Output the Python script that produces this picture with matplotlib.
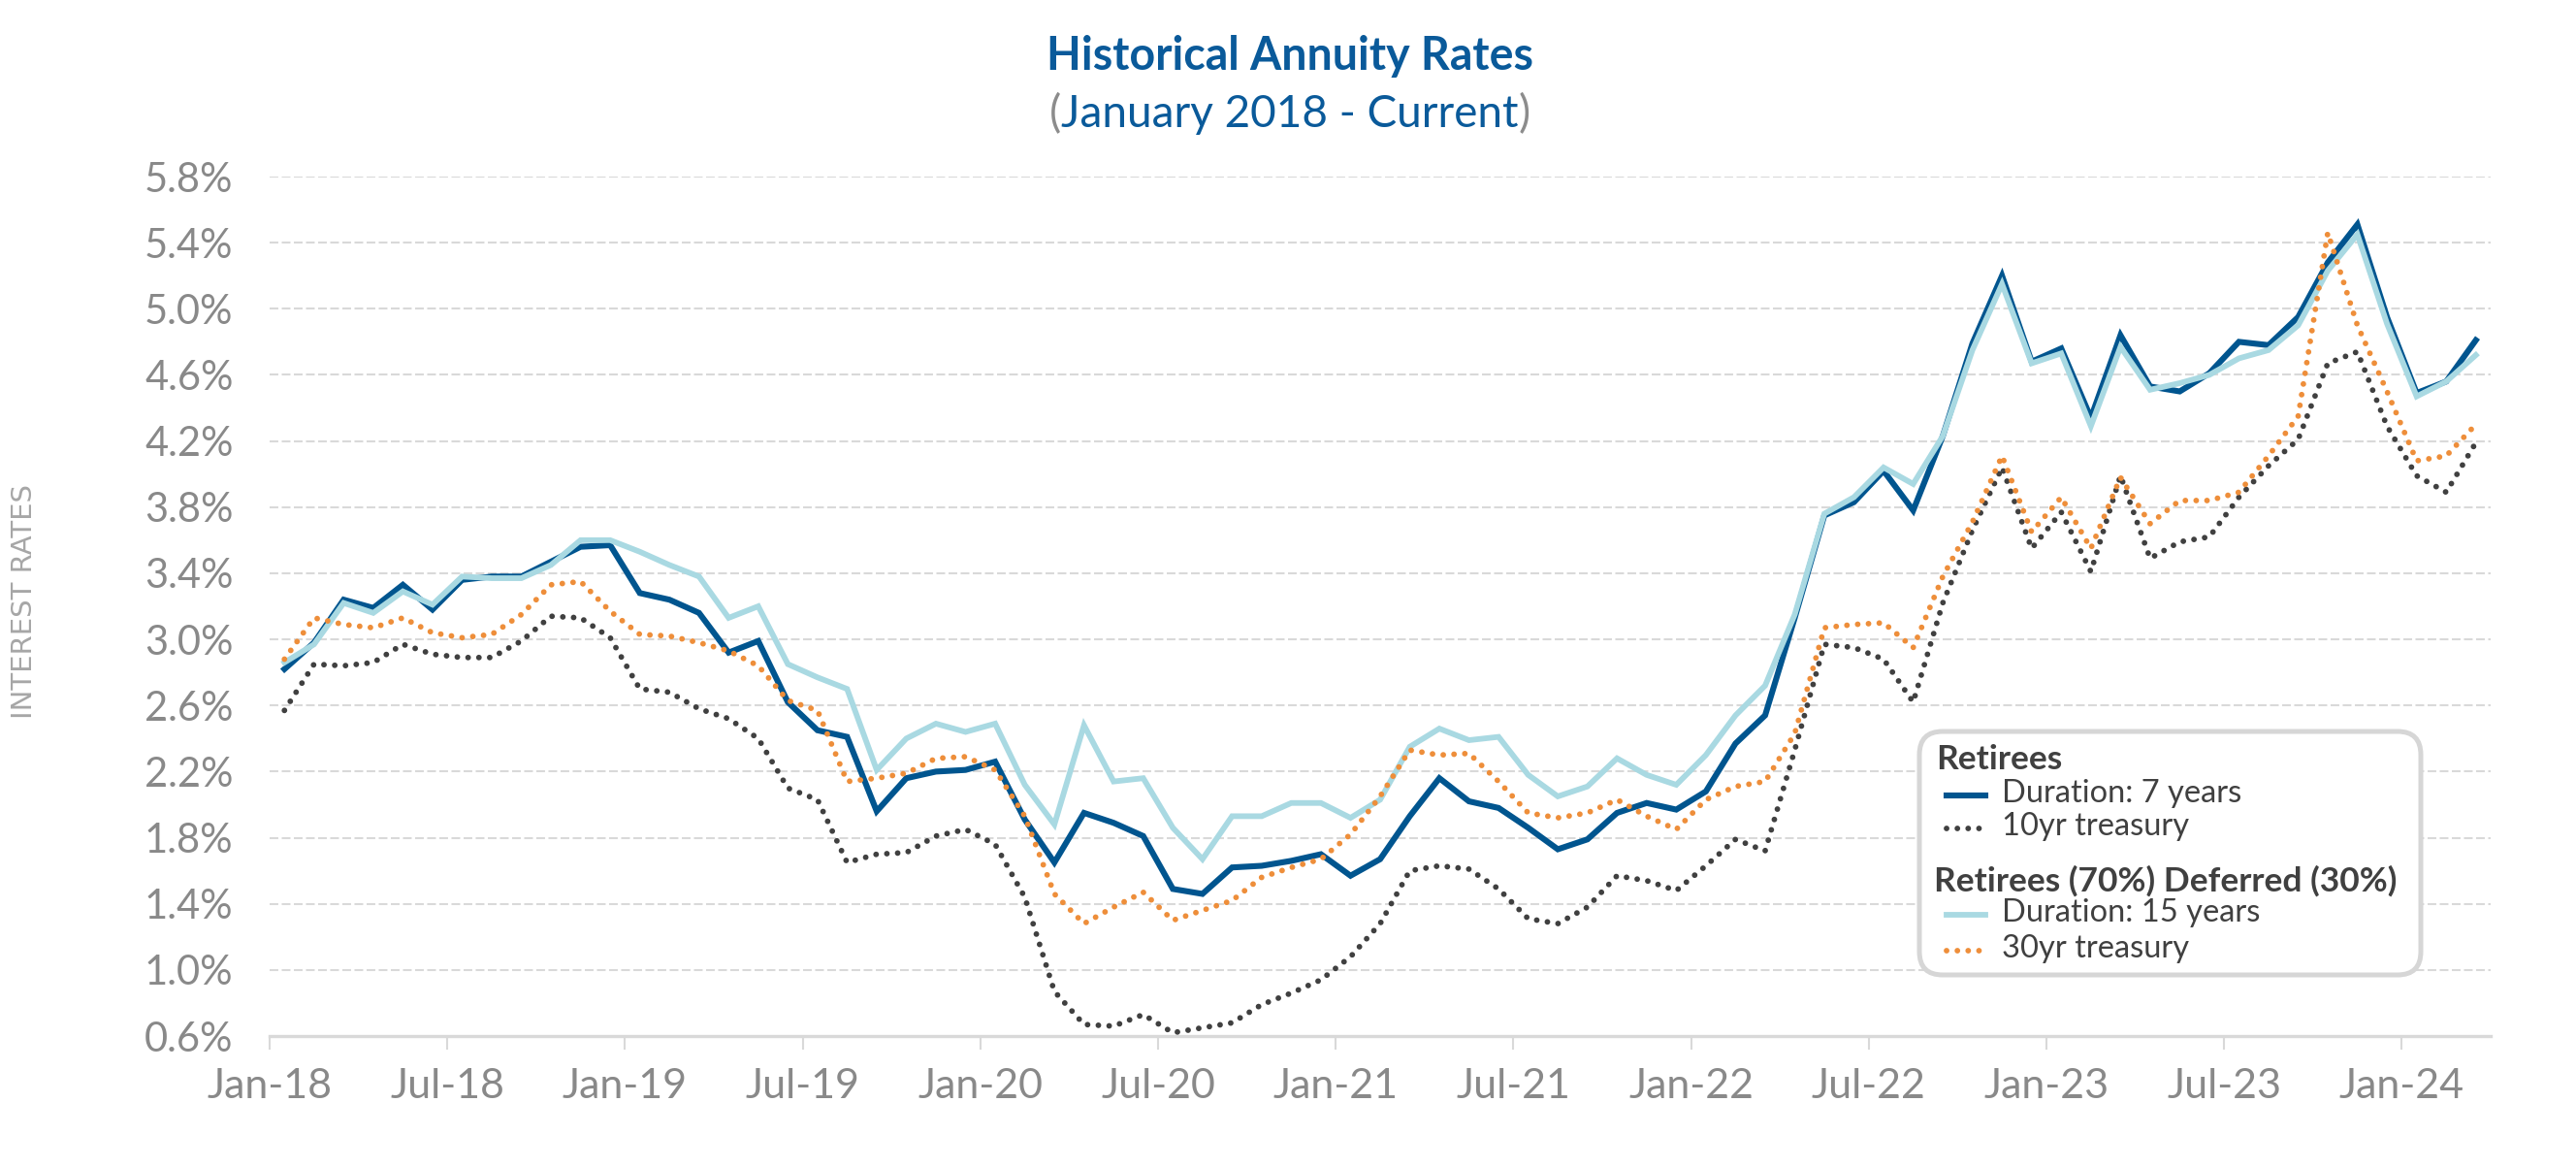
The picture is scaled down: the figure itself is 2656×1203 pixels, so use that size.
import matplotlib
matplotlib.use("Agg")
import matplotlib.pyplot as plt
from matplotlib.lines import Line2D
from matplotlib.patches import FancyBboxPatch
from matplotlib.transforms import Affine2D
import numpy as np

# monthly values, Jan-2018 .. Mar-2024
dur7 = [2.82, 2.98, 3.24, 3.19, 3.33, 3.18, 3.36, 3.38, 3.38, 3.47, 3.56, 3.57,
        3.28, 3.24, 3.16, 2.92, 2.99, 2.62, 2.45, 2.41, 1.96, 2.16, 2.20, 2.21,
        2.26, 1.91, 1.65, 1.95, 1.89, 1.81, 1.49, 1.46, 1.62, 1.63, 1.66, 1.70,
        1.57, 1.67, 1.93, 2.16, 2.02, 1.98, 1.86, 1.73, 1.79, 1.95, 2.01, 1.97,
        2.08, 2.37, 2.54, 3.13, 3.75, 3.83, 4.02, 3.78, 4.23, 4.79, 5.20, 4.68,
        4.76, 4.34, 4.84, 4.53, 4.50, 4.61, 4.80, 4.78, 4.95, 5.28, 5.51, 4.95,
        4.49, 4.56, 4.81]
dur15 = [2.86, 2.97, 3.22, 3.16, 3.29, 3.21, 3.38, 3.37, 3.37, 3.45, 3.60, 3.60,
         3.53, 3.45, 3.38, 3.13, 3.20, 2.85, 2.77, 2.70, 2.21, 2.40, 2.49, 2.44,
         2.49, 2.12, 1.88, 2.48, 2.14, 2.16, 1.86, 1.67, 1.93, 1.93, 2.01, 2.01,
         1.92, 2.03, 2.35, 2.46, 2.39, 2.41, 2.18, 2.05, 2.11, 2.28, 2.18, 2.12,
         2.30, 2.54, 2.72, 3.15, 3.76, 3.86, 4.04, 3.94, 4.23, 4.75, 5.15, 4.67,
         4.73, 4.29, 4.77, 4.51, 4.55, 4.60, 4.70, 4.75, 4.90, 5.23, 5.45, 4.91,
         4.47, 4.56, 4.72]
tsy10 = [2.57, 2.85, 2.84, 2.86, 2.97, 2.91, 2.89, 2.89, 2.99, 3.14, 3.13, 3.01,
         2.70, 2.68, 2.58, 2.52, 2.40, 2.10, 2.03, 1.65, 1.70, 1.71, 1.81, 1.85,
         1.76, 1.44, 0.87, 0.67, 0.66, 0.73, 0.62, 0.65, 0.68, 0.79, 0.86, 0.94,
         1.08, 1.28, 1.60, 1.63, 1.61, 1.49, 1.31, 1.28, 1.38, 1.57, 1.54, 1.48,
         1.63, 1.79, 1.72, 2.33, 2.97, 2.95, 2.88, 2.62, 3.22, 3.66, 4.04, 3.55,
         3.77, 3.41, 3.99, 3.49, 3.59, 3.62, 3.86, 4.05, 4.21, 4.67, 4.74, 4.29,
         3.99, 3.89, 4.19]
tsy30 = [2.88, 3.13, 3.09, 3.07, 3.13, 3.04, 3.01, 3.03, 3.15, 3.33, 3.35, 3.17,
         3.03, 3.02, 2.98, 2.93, 2.84, 2.63, 2.57, 2.14, 2.16, 2.19, 2.28, 2.29,
         2.21, 1.93, 1.46, 1.28, 1.38, 1.47, 1.30, 1.36, 1.42, 1.56, 1.62, 1.67,
         1.82, 2.05, 2.33, 2.30, 2.31, 2.14, 1.95, 1.92, 1.95, 2.03, 1.93, 1.85,
         2.03, 2.11, 2.14, 2.43, 3.07, 3.09, 3.10, 2.95, 3.38, 3.71, 4.11, 3.65,
         3.86, 3.55, 3.98, 3.70, 3.84, 3.84, 3.89, 4.11, 4.35, 5.46, 4.90, 4.50,
         4.08, 4.11, 4.30]

tick_labels = ['Jan-18', 'Jul-18', 'Jan-19', 'Jul-19', 'Jan-20', 'Jul-20', 'Jan-21',
               'Jul-21', 'Jan-22', 'Jul-22', 'Jan-23', 'Jul-23', 'Jan-24']
y_ticks = [0.6, 1.0, 1.4, 1.8, 2.2, 2.6, 3.0, 3.4, 3.8, 4.2, 4.6, 5.0, 5.4, 5.8]

DARK = '#00558F'
LIGHT = '#A9D9E2'
ORANGE = '#EE8E3A'
GREY_DOT = '#404040'
TITLE_C = '#0A5A9A'
TICK_C = '#898989'
GRID_C = '#D9D9D9'

W, H = 2656, 1203
fig = plt.figure(figsize=(W / 100, H / 100), dpi=100)
ax = fig.add_axes([278 / W, 1 - 1068 / H, (2568 - 278) / W, (1068 - 182) / H])

x = np.arange(len(dur7)) + 0.5
dot = (0, (0.01, 1.9))
ax.plot(x, dur7, color=DARK, lw=4.4, solid_joinstyle='miter', zorder=3)
ax.plot(x, dur15, color=LIGHT, lw=4.2, solid_joinstyle='miter', zorder=4)
ax.plot(x, tsy10, color=GREY_DOT, lw=4.2, ls=dot, dash_capstyle='round', zorder=5)
ax.plot(x, tsy30, color=ORANGE, lw=4.2, ls=dot, dash_capstyle='round', zorder=6)

ax.set_xlim(0, 75)
ax.set_ylim(0.6, 5.8)
ax.set_xticks(np.arange(0, 73, 6))
ax.set_xticklabels(tick_labels)
ax.set_yticks(y_ticks)
ax.set_yticklabels(['%.1f%%' % v for v in y_ticks])

for v in y_ticks[1:]:
    ax.axhline(v, color=GRID_C, lw=1.5, ls=(0, (4.3, 1.7)), zorder=1)

for s in ['top', 'right', 'left']:
    ax.spines[s].set_visible(False)
ax.spines['bottom'].set_color(GRID_C)
ax.spines['bottom'].set_linewidth(2.4)

ax.tick_params(axis='x', length=10, width=1.5, color=GRID_C, pad=14,
               labelsize=31, labelcolor=TICK_C)
ax.tick_params(axis='y', length=0, pad=27, labelsize=30, labelcolor=TICK_C)
for lab in ax.get_xticklabels() + ax.get_yticklabels():
    lab.set_family('Lato')

fig.text(25 / W, 1 - 620 / H, 'INTEREST RATES', rotation=90, ha='center', va='center',
         fontsize=21, color='#A6A6A6', family=['Liberation Sans Narrow', 'DejaVu Sans'])

# titles
fig.text(1330 / W, 1 - 58 / H, 'Historical Annuity Rates', ha='center', va='center',
         fontsize=33.5, fontweight='bold', color=TITLE_C, family='Lato')
sub = fig.text(1330 / W, 1 - 118 / H, 'January 2018 - Current', ha='center', va='center',
               fontsize=33, color=TITLE_C, family='Lato')
fig.add_artist(plt.Annotation('(', xy=(0, 0.5), xycoords=sub, ha='right', va='center',
                              fontsize=33, color='#8C8C8C', family='Lato'))
fig.add_artist(plt.Annotation(')', xy=(1, 0.5), xycoords=sub, ha='left', va='center',
                              fontsize=33, color='#8C8C8C', family='Lato'))

# legend drawn by hand (pixel coords, origin top-left)
pxT = Affine2D().scale(1 / W, -1 / H).translate(0, 1) + fig.transFigure
box = FancyBboxPatch((1979, 754), 517, 251, boxstyle='round,pad=0,rounding_size=24',
                     transform=pxT, facecolor='white', edgecolor='#D6D6D6', lw=3.6,
                     zorder=10)
fig.add_artist(box)

LEG_C = '#404040'
fig.text(1996, 783, 'Retirees', transform=pxT, ha='left', va='center', fontsize=25.5,
         fontweight='bold', color=LEG_C, family='Lato', zorder=11)
fig.text(1994, 908, 'Retirees (70%) Deferred (30%)', transform=pxT, ha='left',
         va='center', fontsize=25.5, fontweight='bold', color=LEG_C, family='Lato', zorder=11)
rows = [(820, 'Duration: 7 years', dict(color=DARK, lw=4.4)),
        (854, '10yr treasury', dict(color=GREY_DOT, lw=4.2, ls=dot, dash_capstyle='round')),
        (943, 'Duration: 15 years', dict(color=LIGHT, lw=4.2)),
        (980, '30yr treasury', dict(color=ORANGE, lw=4.2, ls=dot, dash_capstyle='round'))]
for yy, label, st in rows:
    fig.add_artist(Line2D([2007, 2047], [yy, yy], transform=pxT, zorder=11, **st))
    fig.text(2064, yy - 2, label, transform=pxT, ha='left', va='center', fontsize=23.5,
             color=LEG_C, family='Lato', zorder=11)

fig.savefig('out.png', dpi=100, facecolor='white')
